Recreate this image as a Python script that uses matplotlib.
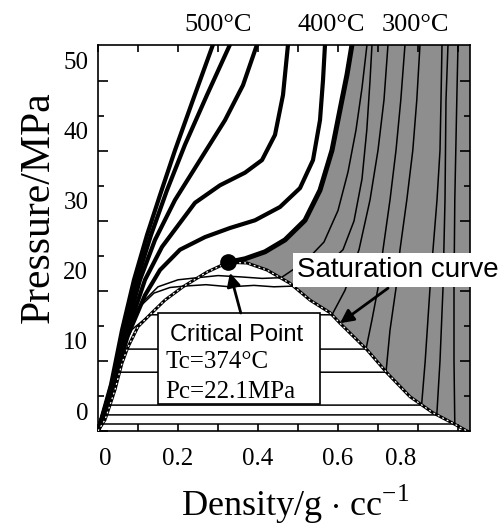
import matplotlib
matplotlib.use("Agg")
import matplotlib.pyplot as plt
from matplotlib.patches import Rectangle
from matplotlib.transforms import ScaledTranslation, blended_transform_factory

plt.rcParams['font.family'] = ['Liberation Serif', 'DejaVu Serif']
plt.rcParams['mathtext.fontset'] = 'custom'
plt.rcParams['mathtext.rm'] = 'Liberation Serif'

# density in g/cc, pressure in MPa

# supercritical isotherms (thick), hottest first
sc1_rho = [0, 0.0325, 0.06, 0.09, 0.1225, 0.155, 0.1925, 0.2375, 0.2875]
sc1_p = [0, 6.6, 14.4, 21.6, 28.0, 33.7, 40.1, 47.3, 55.2]
sc2_rho = [0, 0.035, 0.065, 0.0975, 0.1325, 0.1725, 0.2175, 0.2725, 0.33]
sc2_p = [0, 6.6, 14.4, 21.6, 28.0, 34.4, 40.9, 48.0, 55.2]
sc3_rho = [0, 0.0375, 0.07, 0.105, 0.1425, 0.1925, 0.255, 0.3175, 0.3625, 0.3975]
sc3_p = [0, 6.6, 14.4, 21.6, 27.3, 33.0, 38.7, 44.4, 49.4, 55.2]
sc4_rho = [0, 0.0375, 0.075, 0.1175, 0.16, 0.2425, 0.305, 0.3675, 0.41, 0.4425, 0.4625, 0.475]
sc4_p = [0, 6.6, 14.4, 21.6, 26.3, 32.6, 35.1, 36.9, 38.7, 42.3, 48.0, 55.2]
sc5_rho = [0, 0.0375, 0.075, 0.1175, 0.155, 0.205, 0.2675, 0.33, 0.3925, 0.455, 0.505,
           0.5375, 0.555, 0.5625, 0.5675]
sc5_p = [0, 6.6, 13.7, 19.4, 23.0, 25.9, 27.7, 29.0, 30.1, 32.0, 34.7, 38.7, 44.4, 50.1, 55.2]

# critical isotherm, from the critical point upward
crit_rho = [0.325, 0.3675, 0.4175, 0.4675, 0.5175, 0.555, 0.585, 0.605, 0.6225, 0.635]
crit_p = [24.1, 24.6, 25.6, 27.3, 30.1, 34.4, 40.1, 45.9, 50.9, 55.2]

# saturation curve (vapour branch, then liquid branch)
sat_rho = [0, 0.0175, 0.03, 0.0425, 0.06, 0.075, 0.1, 0.135, 0.1675, 0.2125, 0.2725, 0.325,
           0.3725, 0.4225, 0.48, 0.53, 0.58, 0.605, 0.6725, 0.7225, 0.78, 0.8375, 0.8875, 0.9225]
sat_p = [0, 1.6, 3.7, 5.9, 9.7, 12.0, 14.9, 16.9, 18.7, 20.6, 22.7, 24.1,
         24.0, 23.0, 21.1, 18.7, 16.9, 15.4, 11.6, 8.3, 4.9, 2.6, 1.1, 0]
crit_idx = 11

# subcritical isotherms (thin): vapour branch, tie line, liquid branch
sub_rho = [
    [0, 0.035, 0.07, 0.11, 0.15, 0.2, 0.249, 0.3, 0.36, 0.41, 0.458,
     0.52, 0.565, 0.6, 0.625, 0.645, 0.66, 0.6725],
    [0, 0.035, 0.068, 0.1, 0.14, 0.18, 0.216, 0.27, 0.33, 0.39, 0.44, 0.489,
     0.56, 0.6125, 0.64, 0.66, 0.672, 0.68, 0.685],
    [0, 0.03, 0.055, 0.085, 0.13, 0.585, 0.6175, 0.6525, 0.68, 0.7, 0.715, 0.725],
    [0, 0.03, 0.05, 0.073, 0.67, 0.685, 0.7, 0.7125, 0.73, 0.745, 0.757, 0.7675],
    [0, 0.025, 0.054, 0.72, 0.73, 0.745, 0.755, 0.772, 0.787, 0.797, 0.805],
    [0, 0.03, 0.809, 0.818, 0.83, 0.8375, 0.8475, 0.855, 0.8575, 0.86],
    [0, 0.022, 0.847, 0.855, 0.8625, 0.8675, 0.87, 0.875],
    [0, 0.012, 0.892, 0.89, 0.89, 0.892, 0.897, 0.9],
]
sub_p = [
    [0, 6.6, 13.5, 18.3, 20.6, 21.6, 21.9, 22.2, 22.0, 21.8, 21.9,
     24.3, 27.0, 31.5, 37.0, 43.0, 49.0, 55.2],
    [0, 6.6, 13.5, 17.5, 19.7, 20.5, 20.7, 20.9, 20.6, 20.8, 20.6, 20.7,
     23.0, 25.9, 30.0, 36.0, 43.0, 50.0, 55.2],
    [0, 6.6, 11.0, 14.5, 16.6, 16.6, 20.1, 25.9, 33.0, 40.1, 47.3, 55.2],
    [0, 6.0, 9.5, 11.7, 11.7, 15.9, 20.4, 25.9, 33.0, 40.1, 47.3, 55.2],
    [0, 4.5, 8.4, 8.4, 14.4, 20.4, 25.9, 33.0, 40.1, 47.3, 55.2],
    [0, 3.7, 3.7, 10.0, 20.4, 25.9, 33.0, 40.1, 47.3, 55.2],
    [0, 2.3, 2.3, 10.0, 20.4, 33.0, 47.3, 55.2],
    [0, 1.0, 1.0, 10.0, 20.4, 33.0, 47.3, 55.2],
]

temp_labels = ['500°C', '400°C', '300°C']
temp_label_x = [0.30, 0.5825, 0.7925]

x_ticks = [0, 0.2, 0.4, 0.6, 0.8]
x_tick_labels = ['0', '0.2', '0.4', '0.6', '0.8']
y_ticks = [0, 10, 20, 30, 40, 50]

fig = plt.figure(figsize=(5.04, 5.27), dpi=100)
ax = fig.add_axes([98 / 504, (527 - 431) / 527, 372 / 504, 386 / 527])
ax.set_xlim(0, 0.93)
ax.set_ylim(0, 55.14)

# grey liquid region: right of the critical isotherm, above the liquid branch
xmax = ax.get_xlim()[1]
ymax = ax.get_ylim()[1]
poly_x = crit_rho + [xmax, xmax] + sat_rho[:crit_idx - 1:-1]
poly_y = crit_p + [ymax, 0] + sat_p[:crit_idx - 1:-1]
ax.fill(poly_x, poly_y, color='#8e8e8e', lw=0, zorder=1)

for r, p in zip(sub_rho, sub_p):
    ax.plot(r, p, color='black', lw=1.1, zorder=2)

for r, p in [(sc1_rho, sc1_p), (sc2_rho, sc2_p), (sc3_rho, sc3_p),
             (sc4_rho, sc4_p), (sc5_rho, sc5_p)]:
    ax.plot(r, p, color='black', lw=3.0, zorder=3, solid_capstyle='round')
ax.plot(crit_rho, crit_p, color='black', lw=3.6, zorder=3)

# saturation curve: black line with white dashes
ax.plot(sat_rho, sat_p, color='black', lw=2.2, zorder=4)
ax.plot(sat_rho, sat_p, color='white', lw=0.9, ls=(0, (1.5, 2.5)), zorder=4)

ax.plot(crit_rho[0], crit_p[0], 'o', color='black', ms=11, zorder=8)

# critical point box
ax.add_patch(Rectangle((0.15, 3.86), 0.405, 13.0, facecolor='white',
                       edgecolor='black', lw=1.2, zorder=6))
ax.text(0.18, 13.7, 'Critical Point', family='Liberation Sans', fontsize=17,
        va='center', ha='left', zorder=7)
ax.text(0.1675, 9.86, 'Tc=374°C', fontsize=18, va='center', ha='left', zorder=7)
ax.text(0.1675, 5.57, 'Pc=22.1MPa', fontsize=18, va='center', ha='left', zorder=7)
ax.annotate('', xy=(0.33, 22.6), xytext=(0.357, 16.86),
            arrowprops=dict(arrowstyle='-|>', color='black', lw=2.0,
                            mutation_scale=20, shrinkA=0, shrinkB=0), zorder=7)

# saturation curve label
ax.text(0.4975, 23.0, 'Saturation curve', family='Liberation Sans', fontsize=20,
        va='center', ha='left', zorder=10, clip_on=False,
        bbox=dict(facecolor='white', edgecolor='none', pad=3))
ax.annotate('', xy=(0.605, 15.4), xytext=(0.725, 20.4),
            arrowprops=dict(arrowstyle='-|>', color='black', lw=2.0,
                            mutation_scale=20, shrinkA=0, shrinkB=0), zorder=9)

# temperature labels above the frame
trans = blended_transform_factory(ax.transData, ax.transAxes)
for lab, x in zip(temp_labels, temp_label_x):
    ax.text(x, 1.052, lab, transform=trans, fontsize=19, ha='center', va='center')

# ticks
ax.set_xticks(x_ticks)
ax.set_xticklabels(x_tick_labels)
ax.set_xticks([0.1, 0.3, 0.5, 0.7, 0.9], minor=True)
ax.set_yticks(y_ticks)
ax.set_yticks([5, 15, 25, 35, 45], minor=True)
ax.tick_params(which='both', direction='in', top=True, right=True, width=1.2,
               labelsize=18)
ax.xaxis.set_tick_params(which='both', length=5, pad=12)
ax.yaxis.set_tick_params(which='major', length=7, pad=7)
ax.yaxis.set_tick_params(which='minor', length=4)
for s in ax.spines.values():
    s.set_linewidth(1.2)

# tick labels sit a bit off their ticks in the original
for lbl in ax.get_yticklabels():
    lbl.set_transform(lbl.get_transform() + ScaledTranslation(0, 0.2, fig.dpi_scale_trans))
xlabs = ax.get_xticklabels()
xlabs[0].set_transform(xlabs[0].get_transform() + ScaledTranslation(0.07, 0, fig.dpi_scale_trans))
xlabs[4].set_transform(xlabs[4].get_transform() + ScaledTranslation(-0.17, 0, fig.dpi_scale_trans))

ax.set_xlabel('Density/g $\\cdot$ cc$^{\\mathrm{-1}}$', fontsize=26)
ax.xaxis.set_label_coords(0.53, -0.19)
ax.xaxis.label.set_va('center')
ax.set_ylabel('Pressure/MPa', fontsize=30)
ax.yaxis.set_label_coords(-0.16, 0.58)
ax.yaxis.label.set_va('center')

fig.savefig('out.png', dpi=100)
